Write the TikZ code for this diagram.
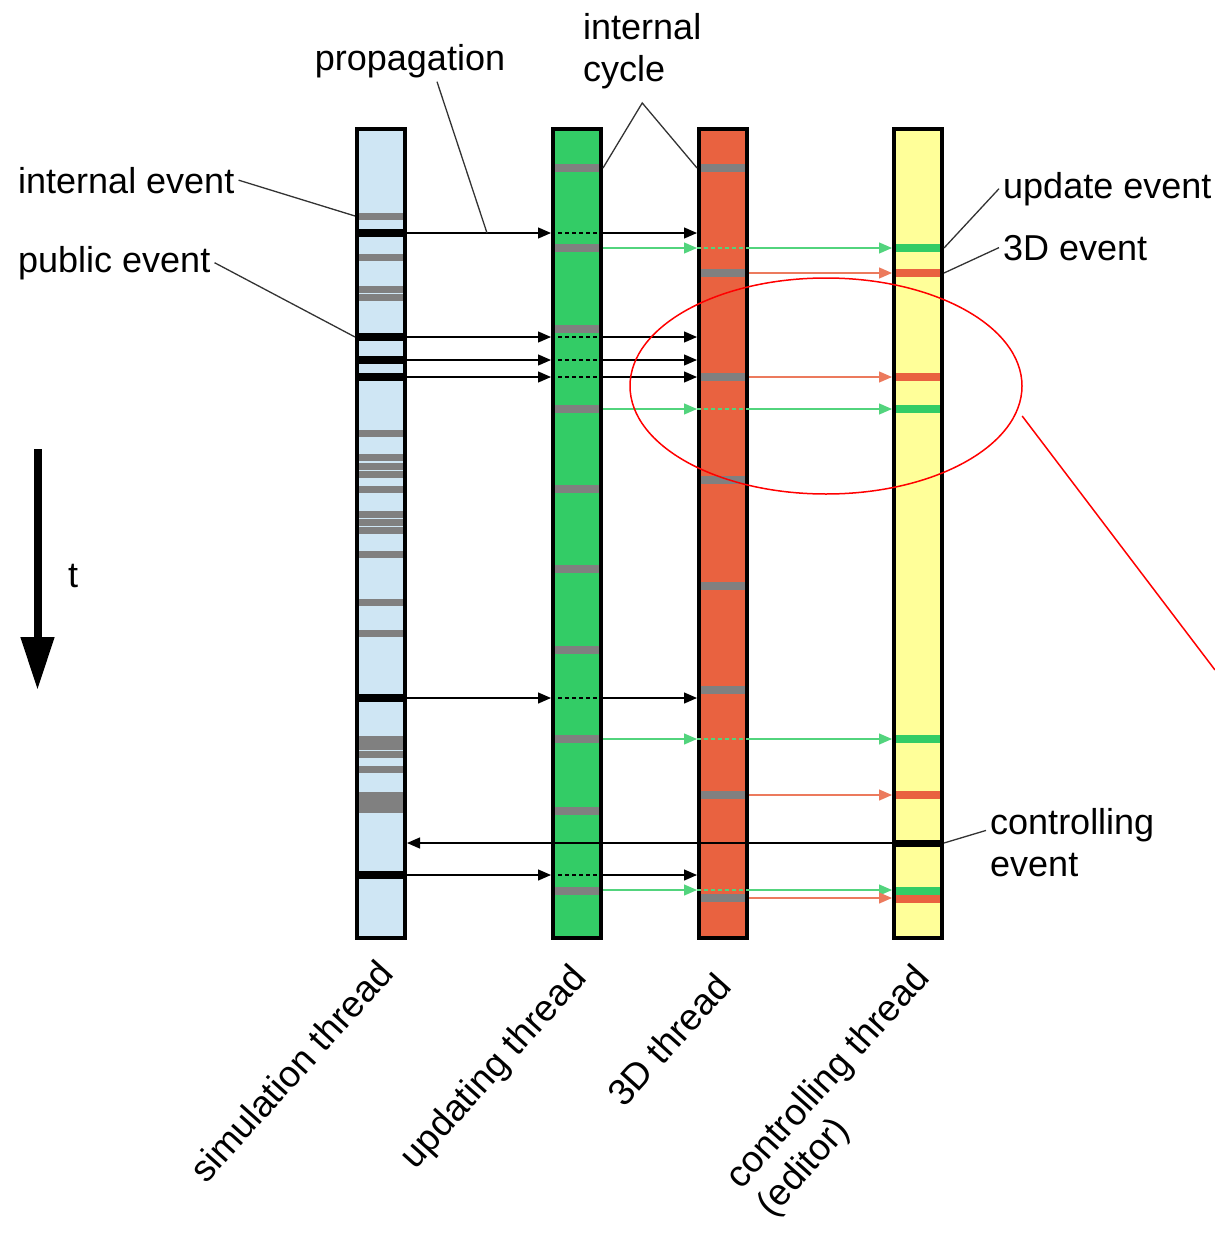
\documentclass[tikz,border=0pt]{standalone}
\usepackage{fontspec}
\setmainfont{Liberation Sans}
\usepackage{tikz}
\usetikzlibrary{arrows.meta,calc,shapes.geometric}

\definecolor{simblue}{HTML}{CFE6F4}
\definecolor{updgreen}{HTML}{33CC66}
\definecolor{gfxred}{HTML}{E96240}
\definecolor{ctlyellow}{HTML}{FFFF99}
\definecolor{evgray}{HTML}{808080}
\definecolor{leadgray}{HTML}{333333}

\begin{document}
\begin{tikzpicture}[x=1pt,y=-1pt,
    bar/.style={draw,line width=4pt,minimum width=48pt,minimum height=809pt,inner sep=0pt},
    lbl/.style={inner sep=4pt,font=\fontsize{36}{42}\selectfont},
    rlbl/.style={inner sep=0pt,rotate=48,anchor=north east,align=left,font=\fontsize{37}{42}\selectfont},
    lead/.style={leadgray,line width=1.3pt},
    tick/.style={evgray,line width=7.5pt},
    pub/.style={line width=1.3pt,-{Triangle[length=13pt,width=11pt]}},
    pubdash/.style={line width=1.3pt,dash pattern=on 4pt off 3pt},
    upa/.style={updgreen!85!white,line width=1.3pt,-{Triangle[length=13pt,width=11pt]}},
    updash/.style={updgreen!85!white,line width=1.3pt,dash pattern=on 4pt off 3pt},
    gfxa/.style={gfxred!85!white,line width=1.3pt,-{Triangle[length=13pt,width=11pt]}}]
  \useasboundingbox (0,0) rectangle (1215,1234);

  % Drawing the four threads
  \node[bar,fill=simblue] (sim) at (381,533.5) {};
  \node[bar,fill=updgreen] (upd) at (577,533.5) {};
  \node[bar,fill=gfxred] (gfx) at (723,533.5) {};
  \node[bar,fill=ctlyellow] (ctl) at (918,533.5) {};

  % Internal events
  \foreach \y in {216,257,289,297,433,457,466,474,489,514,522,530,554,602,633,739,746,754,769,795,802,809}
    \draw[tick,line width=7pt] ($(sim.west |- 0,\y)+(4,0)$) -- ($(sim.east |- 0,\y)+(-4,0)$);
  \foreach \y in {168,248,329,409,489,569,650,739,811,891}
    \draw[tick] ($(upd.west |- 0,\y)+(4,0)$) -- ($(upd.east |- 0,\y)+(-4,0)$);
  \foreach \y in {168,273,377,480,586,690,795,898}
    \draw[tick] ($(gfx.west |- 0,\y)+(4,0)$) -- ($(gfx.east |- 0,\y)+(-4,0)$);

  % Events on the controlling thread
  \foreach \y in {248,409,739,891}
    \draw[tick,updgreen] ($(ctl.west |- 0,\y)+(4,0)$) -- ($(ctl.east |- 0,\y)+(-4,0)$);
  \foreach \y in {273,377,795,899}
    \draw[tick,gfxred] ($(ctl.west |- 0,\y)+(4,0)$) -- ($(ctl.east |- 0,\y)+(-4,0)$);
  \draw[line width=7pt] (ctl.west |- 0,843) -- (ctl.east |- 0,843);

  % Public events and their propagation
  \foreach \y in {233,337,360,377,698,875} {
    \draw[line width=7.5pt] (sim.west |- 0,\y) -- (sim.east |- 0,\y);
    \draw[pub] (sim.east |- 0,\y) -- (upd.west |- 0,\y);
    \draw[pubdash] (upd.west |- 0,\y) -- (upd.east |- 0,\y);
    \draw[pub] (upd.east |- 0,\y) -- (gfx.west |- 0,\y);
  }
  \foreach \y in {248,409,739,890} {
    \draw[upa] (upd.east |- 0,\y) -- (gfx.west |- 0,\y);
    \draw[updash] (gfx.west |- 0,\y) -- (gfx.east |- 0,\y);
    \draw[upa] (gfx.east |- 0,\y) -- (ctl.west |- 0,\y);
  }
  \foreach \y in {273,377,795,898}
    \draw[gfxa] (gfx.east |- 0,\y) -- (ctl.west |- 0,\y);

  % Controlling event back to the simulation
  \draw[pub] (ctl.west |- 0,843) -- (sim.east |- 0,843);

  % Time axis
  \coordinate (tstart) at (37.5,449);
  \coordinate (tend) at (37.5,690);
  \draw[line width=8pt,-{Triangle[length=53pt,width=32pt]}] (tstart) -- (tend);
  \node[lbl,anchor=base west] (tlbl) at (64,587) {t};

  % Labels
  \node[lbl,anchor=base west] (intev) at (14,193) {internal event};
  \node[lbl,anchor=base west] (pubev) at (14,272) {public event};
  \node[lbl,anchor=base] (prop) at (410,70) {propagation};
  \node[lbl,anchor=north west,align=left] (cyc) at (579,9) {internal\\cycle};
  \node[lbl,anchor=base west] (updev) at (999,198) {update event};
  \node[lbl,anchor=base west] (gfxev) at (999,260) {3D event};
  \node[lbl,anchor=north west,align=left] (ctlev) at (986,804) {controlling\\event};

  \coordinate (propfoot) at (487,233);
  \coordinate (cycapex) at ([yshift=-10pt]cyc.south);
  \draw[lead] (intev.east) -- (sim.west |- 0,216);
  \draw[lead] (pubev.east) -- (sim.west |- 0,337);
  \draw[lead] ([xshift=27pt]prop.south) -- (propfoot);
  \draw[lead] (upd.east |- 0,168) -- (cycapex) -- (gfx.west |- 0,168);
  \draw[lead] (updev.west) -- (ctl.east |- 0,248);
  \draw[lead] (gfxev.west) -- (ctl.east |- 0,273);
  \draw[lead] ([yshift=12pt]ctlev.west) -- (ctl.east |- 0,843);

  % Thread names
  \node[rlbl] (simname) at (375,957) {simulation thread};
  \node[rlbl] (updname) at (568,961) {updating thread};
  \node[rlbl] (gfxname) at (713,970) {3D thread};
  \node[rlbl] (ctlname) at (911,961) {controlling thread\\(editor)};

  % Close-up mark
  \node[draw=red,line width=1.5pt,ellipse,minimum width=392pt,minimum height=216pt,inner sep=0pt] (focus) at (826,386) {};
  \coordinate (offpage) at (1215,670);
  \draw[red,line width=1.5pt] ([xshift=7pt]focus.-9) -- (offpage);
\end{tikzpicture}
\end{document}
